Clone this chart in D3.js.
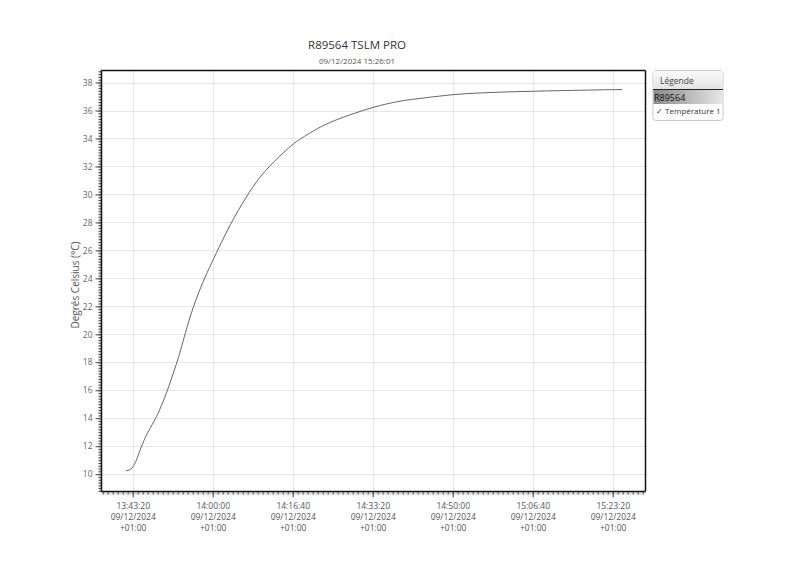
<!DOCTYPE html>
<html>
<head>
<meta charset="utf-8">
<script src="https://cdn.jsdelivr.net/npm/d3@7"></script>
<style>
  body { margin: 0; background: #fff; }
  svg { font-family: "Open Sans", "Noto Sans", sans-serif; }
</style>
</head>
<body>
<svg id="chart" width="800" height="565"></svg>
<script>
const title = "R89564 TSLM PRO";
const subtitle = "09/12/2024 15:26:01";
const yLabel = "Degrés Celsius (°C)";
const dateStr = "2024-12-09";
const times = ["13:41:54","13:42:19","13:43:05","13:43:34","13:44:08","13:44:49","13:45:39","13:46:33","13:47:19","13:48:18","13:49:12","13:50:23","13:51:17","13:52:28","13:53:22","13:54:12","13:55:56","13:58:01","13:59:46","14:01:51","14:03:35","14:06:02","14:09:09","14:12:37","14:16:48","14:18:11","14:23:03","14:28:37","14:33:29","14:39:03","14:43:13","14:50:10","14:55:44","15:02:41","15:09:39","15:16:36","15:25:18"];
const temps = [10.24,10.26,10.36,10.6,11.0,11.7,12.4,13.04,13.5,14.1,14.8,15.8,16.7,17.9,18.9,20.0,22.0,23.8,25.1,26.6,27.8,29.3,31.0,32.33,33.64,33.95,35.0,35.7,36.26,36.7,36.86,37.16,37.26,37.35,37.4,37.45,37.5];
const xTickTimes = ["13:43:20","14:00:00","14:16:40","14:33:20","14:50:00","15:06:40","15:23:20"];
const xTickDate = "09/12/2024";
const xTickZone = "+01:00";
const yTicks = [10,12,14,16,18,20,22,24,26,28,30,32,34,36,38];
const xDomain = ["13:36:50","15:30:10"];
const yDomain = [8.76, 38.86];
const legendTitle = "Légende";
const legendDevice = "R89564";
const legendSeries = "Température 1";

const parse = s => new Date(dateStr + "T" + s);
const data = times.map((t, i) => ({t: parse(t), v: temps[i]}));

const svg = d3.select("#chart");
const L = 101.5, T = 70.5, R = 645.5, B = 491.5;

const x = d3.scaleTime().domain(xDomain.map(parse)).range([L, R]);
const y = d3.scaleLinear().domain(yDomain).range([B, T]);

const defs = svg.append("defs");
const gL = defs.append("linearGradient").attr("id","shL").attr("x1","0").attr("x2","1").attr("y1","0").attr("y2","0");
gL.append("stop").attr("offset","0").attr("stop-color","#bbb").attr("stop-opacity",0.8);
gL.append("stop").attr("offset","1").attr("stop-color","#fff").attr("stop-opacity",0);
const gB = defs.append("linearGradient").attr("id","shB").attr("x1","0").attr("x2","0").attr("y1","0").attr("y2","1");
gB.append("stop").attr("offset","0").attr("stop-color","#bbb").attr("stop-opacity",0.8);
gB.append("stop").attr("offset","1").attr("stop-color","#fff").attr("stop-opacity",0);
const gR = defs.append("linearGradient").attr("id","legRow").attr("x1","0").attr("x2","1");
gR.append("stop").attr("offset","0").attr("stop-color","#8a8a8a");
gR.append("stop").attr("offset","1").attr("stop-color","#e6e6e6");
const gH = defs.append("linearGradient").attr("id","legHead").attr("x1","0").attr("x2","0").attr("y1","0").attr("y2","1");
gH.append("stop").attr("offset","0").attr("stop-color","#fafafa");
gH.append("stop").attr("offset","1").attr("stop-color","#e4e4e4");

// gridlines
svg.append("g").selectAll("line.hg").data(yTicks).join("line")
  .attr("x1", L).attr("x2", R)
  .attr("y1", d => Math.round(y(d)) + 0.5).attr("y2", d => Math.round(y(d)) + 0.5)
  .attr("stroke", "#e6e6e6").attr("stroke-width", 1);
svg.append("g").selectAll("line.vg").data(xTickTimes).join("line")
  .attr("x1", d => Math.round(x(parse(d))) + 0.5).attr("x2", d => Math.round(x(parse(d))) + 0.5)
  .attr("y1", T).attr("y2", B)
  .attr("stroke", "#e6e6e6").attr("stroke-width", 1);

// axis shadows
svg.append("rect").attr("x", L - 5).attr("y", T).attr("width", 5).attr("height", B - T + 2).attr("fill", "url(#shL)").attr("transform", `rotate(180 ${L-2.5} ${(T+B)/2})`);
svg.append("rect").attr("x", L).attr("y", B + 1).attr("width", R - L).attr("height", 5).attr("fill", "url(#shB)");

// frame top/right
svg.append("line").attr("x1", L).attr("x2", R).attr("y1", T).attr("y2", T).attr("stroke", "#111").attr("stroke-width", 1.5);
svg.append("line").attr("x1", R).attr("x2", R).attr("y1", T).attr("y2", B).attr("stroke", "#111").attr("stroke-width", 1.5);

// Y axis
const yMinor = d3.range(yDomain[0] - (yDomain[0] % 0.2), yDomain[1], 0.2).filter(v => v >= yDomain[0] && v <= yDomain[1]);
svg.append("g").attr("transform", `translate(${L},0)`).call(d3.axisLeft(y).tickValues(yMinor).tickSize(3).tickFormat(""))
  .call(g => g.select(".domain").remove())
  .call(g => g.selectAll("line").attr("stroke", "#444"));
const yAxis = d3.axisLeft(y).tickValues(yTicks).tickSize(6).tickPadding(3).tickFormat(d3.format("d"));
svg.append("g").attr("transform", `translate(${L},0)`).call(yAxis)
  .call(g => g.select(".domain").attr("stroke", "#111").attr("stroke-width", 1.5).attr("d", `M0,${T}V${B}`))
  .call(g => g.selectAll("line").attr("stroke", "#444"))
  .call(g => g.selectAll("text").attr("fill", "#666").attr("font-size", 8.5).attr("font-family", "'Open Sans', sans-serif"));

// X axis
const xStart = parse(xTickTimes[0]);
const stepMs = 62.5 * 1000;
const xMinor = [];
for (let k = -20; k < 120; k++) {
  const d = new Date(xStart.getTime() + k * stepMs);
  if (d >= x.domain()[0] && d <= x.domain()[1]) xMinor.push(d);
}
svg.append("g").attr("transform", `translate(0,${B})`)
  .call(d3.axisBottom(x).tickValues(xMinor).tickSize(3).tickFormat(""))
  .call(g => g.select(".domain").remove())
  .call(g => g.selectAll("line").attr("stroke", "#555"));
const xAxis = d3.axisBottom(x).tickValues(xTickTimes.map(parse)).tickSize(6).tickFormat("");
const xg = svg.append("g").attr("transform", `translate(0,${B})`).call(xAxis)
  .call(g => g.select(".domain").attr("stroke", "#111").attr("stroke-width", 1.5).attr("d", `M${L},0H${R}`))
  .call(g => g.selectAll("line").attr("stroke", "#444"));
xg.selectAll(".tick").each(function(d, i) {
  const t = d3.select(this).append("text").attr("fill", "#555").attr("font-size", 8.5)
    .attr("text-anchor", "middle").attr("font-family", "'Open Sans', sans-serif");
  t.append("tspan").attr("x", 0).attr("y", 17).text(xTickTimes[i]);
  t.append("tspan").attr("x", 0).attr("y", 28).text(xTickDate);
  t.append("tspan").attr("x", 0).attr("y", 39).text(xTickZone);
});

// line
svg.append("path").datum(data)
  .attr("fill", "none").attr("stroke", "#555").attr("stroke-width", 0.9)
  .attr("d", d3.line().x(d => x(d.t)).y(d => y(d.v)).curve(d3.curveBasis));

// titles
svg.append("text").attr("x", 357).attr("y", 49).attr("text-anchor", "middle")
  .attr("font-size", 11.5).attr("fill", "#333").text(title);
svg.append("text").attr("x", 357).attr("y", 64).attr("text-anchor", "middle")
  .attr("font-size", 8).attr("fill", "#555").text(subtitle);

// y label
svg.append("text").attr("transform", `translate(79,${(T + B) / 2 + 4}) rotate(-90)`)
  .attr("text-anchor", "middle").attr("font-size", 10).attr("fill", "#555").text(yLabel);

// legend
const lg = svg.append("g");
lg.append("rect").attr("x", 653).attr("y", 70.5).attr("width", 70).attr("height", 50).attr("rx", 3)
  .attr("fill", "#fff").attr("stroke", "#bbb").attr("stroke-width", 0.8);
lg.append("rect").attr("x", 653.5).attr("y", 71).attr("width", 69).attr("height", 18).attr("fill", "url(#legHead)");
lg.append("text").attr("x", 660).attr("y", 84).attr("font-size", 8.5).attr("fill", "#444").text(legendTitle);
lg.append("line").attr("x1", 653).attr("x2", 723).attr("y1", 89.5).attr("y2", 89.5).attr("stroke", "#222").attr("stroke-width", 1);
lg.append("rect").attr("x", 653.5).attr("y", 90).attr("width", 69).attr("height", 14).attr("fill", "url(#legRow)");
lg.append("text").attr("x", 654).attr("y", 101).attr("font-size", 9).attr("fill", "#111").text(legendDevice);
lg.append("text").attr("x", 656).attr("y", 114).attr("font-size", 8).attr("fill", "#333").text("✓ " + legendSeries);
</script>
</body>
</html>
